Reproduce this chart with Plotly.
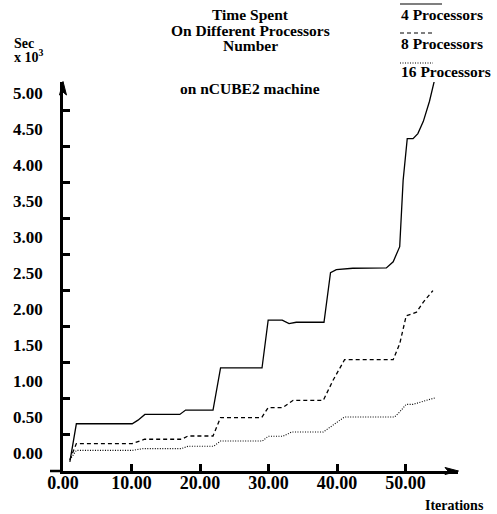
import plotly.graph_objects as go

# Iteration / time (x 10^3 sec) samples for each processor count
iters_4 = [1.0, 1.95, 10.1, 10.95, 11.95, 17.05, 17.9, 21.9, 23.0, 29.05, 29.95, 32.0,
           33.0, 34.05, 38.1, 39.05, 39.9, 41.1, 42.3, 47.2, 48.2, 49.15, 49.65, 50.25,
           51.1, 51.8, 52.6, 53.5, 54.3]
time_4 = [-0.13, 0.40, 0.40, 0.45, 0.53, 0.53, 0.59, 0.59, 1.175, 1.175, 1.84, 1.84,
          1.79, 1.81, 1.81, 2.50, 2.54, 2.545, 2.56, 2.565, 2.65, 2.86, 3.78, 4.36,
          4.36, 4.43, 4.60, 4.88, 5.20]

iters_8 = [1.0, 1.95, 10.1, 11.9, 17.3, 18.25, 21.9, 23.0, 29.0, 29.95, 32.1, 33.6,
           38.0, 39.4, 41.1, 48.2, 49.15, 50.1, 51.6, 52.6, 54.0]
time_8 = [-0.10, 0.125, 0.125, 0.185, 0.185, 0.23, 0.23, 0.486, 0.486, 0.625, 0.625,
          0.726, 0.726, 1.00, 1.29, 1.29, 1.51, 1.90, 1.95, 2.09, 2.25]

iters_16 = [1.0, 1.95, 10.1, 11.7, 17.3, 18.25, 22.0, 23.0, 29.1, 29.95, 32.1, 33.4,
            38.0, 39.4, 41.1, 48.4, 49.15, 50.1, 51.1, 54.3]
time_16 = [-0.10, 0.03, 0.03, 0.055, 0.055, 0.088, 0.088, 0.16, 0.16, 0.226, 0.226,
           0.286, 0.286, 0.38, 0.495, 0.495, 0.565, 0.67, 0.67, 0.76]

x_ticks = [0, 10, 20, 30, 40, 50]
y_ticks = [0.0, 0.5, 1.0, 1.5, 2.0, 2.5, 3.0, 3.5, 4.0, 4.5, 5.0]
y_minor = [0.25, 0.75, 1.25, 1.75, 2.25, 2.75, 3.25, 3.75, 4.25, 4.75]

series = [
    ("4 Processors", iters_4, time_4, "solid", 1.3),
    ("8 Processors", iters_8, time_8, "4px,3px", 1.3),
    ("16 Processors", iters_16, time_16, "1px,1.5px", 1.1),
]

W, H = 497, 514
L, R, T, B = 63, 39, 82, 43
PW, PH = W - L - R, H - T - B
X_RANGE = [0, 57.66]
Y_RANGE = [-0.256, 5.147]


def fx(px):
    return (px - L) / PW


def fy(py):
    return (H - B - py) / PH


SERIF = "Liberation Serif, Times New Roman, serif"

fig = go.Figure()
for name, xs, ys, dash, w in series:
    fig.add_trace(go.Scatter(x=xs, y=ys, mode="lines", name=name,
                             line=dict(color="black", width=w, dash=dash),
                             showlegend=False, cliponaxis=False))

annotations = []


def text(s, px, py, size, anchor="center"):
    annotations.append(dict(text=s, x=fx(px), y=fy(py), xref="paper", yref="paper",
                            xanchor=anchor, yanchor="middle", showarrow=False,
                            font=dict(family=SERIF, size=size, color="black")))


# title block
text("<b>Time Spent</b>", 250, 15, 15.5)
text("<b>On Different Processors</b>", 250, 31, 15.5)
text("<b>Number</b>", 250, 46, 15.5)
text("<b>on nCUBE2 machine</b>", 250, 88, 15.5)

# axis captions
text("<b>Sec</b>", 12, 44, 14, "left")
text("<b>x 10<sup>3</sup></b>", 12, 56, 14, "left")
text("<b>Iterations</b>", 454, 505, 14)

# legend entries: sample line above each label
legend_rows = [(4, 15, 442), (33, 44, 432), (63, 72, 433)]
shapes = []
for (name, _, _, dash, w), (ly, ty, lx1) in zip(series, legend_rows):
    shapes.append(dict(type="line", xref="paper", yref="paper",
                       x0=fx(400), x1=fx(lx1), y0=fy(ly), y1=fy(ly),
                       line=dict(color="black", width=1.1, dash=dash)))
    text(f"<b>{name}</b>", 399, ty, 15.5, "left")

# x axis line stub left of the origin
shapes.append(dict(type="line", xref="paper", yref="paper",
                   x0=fx(50), x1=0, y0=0, y1=0,
                   line=dict(color="black", width=2.5)))


def tri(points):
    pts = [f"{fx(px):.5f},{fy(py):.5f}" for px, py in points]
    return "M " + " L ".join(pts) + " Z"


# arrowheads closing both axes
shapes.append(dict(type="path", xref="paper", yref="paper",
                   path=tri([(458.5, 471), (445, 467.5), (448, 471), (445, 474.5)]),
                   fillcolor="black", line=dict(color="black", width=1)))
shapes.append(dict(type="path", xref="paper", yref="paper",
                   path=tri([(63, 81.5), (59.5, 95), (63, 92), (66.5, 95)]),
                   fillcolor="black", line=dict(color="black", width=1)))

fig.update_layout(
    width=W, height=H,
    margin=dict(l=L, r=R, t=T, b=B, pad=0),
    paper_bgcolor="white", plot_bgcolor="white",
    showlegend=False,
    annotations=annotations,
    shapes=shapes,
    xaxis=dict(range=X_RANGE, showgrid=False, zeroline=False,
               showline=True, linecolor="black", linewidth=2.5,
               tickmode="array", tickvals=x_ticks,
               ticktext=[f"{v:.2f}" for v in x_ticks],
               ticks="inside", ticklen=7, tickwidth=2.5, tickcolor="black",
               ticklabelstandoff=-6,
               tickfont=dict(family=SERIF, size=18, color="black", weight="bold")),
    yaxis=dict(range=[Y_RANGE[0], 5.0 + 0.11], showgrid=False, zeroline=False,
               showline=True, linecolor="black", linewidth=2.5,
               tickmode="array", tickvals=y_ticks,
               ticktext=[f"{v:.2f}" for v in y_ticks],
               ticks="",
               minor=dict(tickmode="array", tickvals=y_minor, ticks="inside",
                          ticklen=7, tickwidth=2.5, tickcolor="black", showgrid=False),
               ticklabelstandoff=14,
               tickfont=dict(family=SERIF, size=17, color="black", weight="bold")),
)
fig.update_yaxes(range=Y_RANGE)

fig.write_html("out.html")
